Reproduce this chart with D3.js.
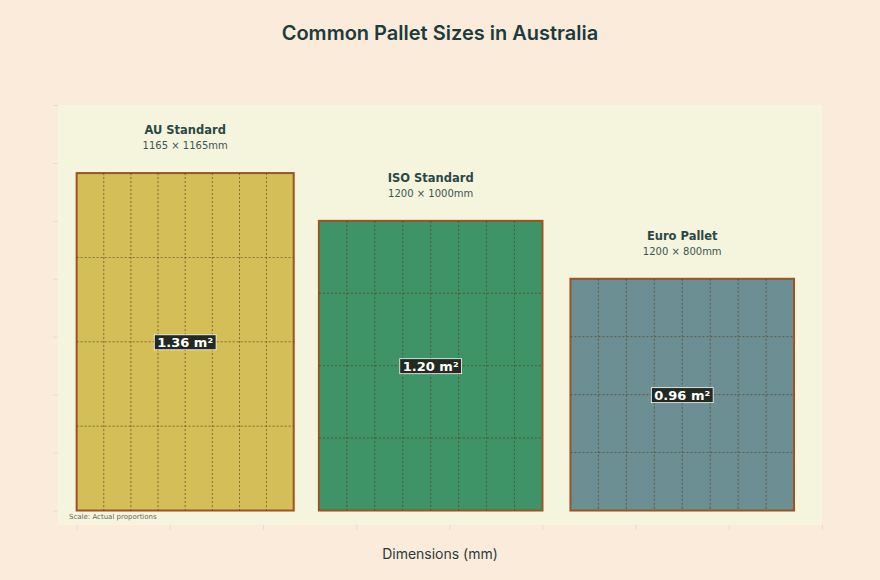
<!DOCTYPE html>
<html><head><meta charset="utf-8">
<script src="https://cdn.jsdelivr.net/npm/d3@7"></script>
<style>body{margin:0;background:#faebdb}</style>
</head><body><svg id="chart" width="880" height="580"></svg>
<script>
const names = ['AU Standard', 'ISO Standard', 'Euro Pallet'];
const widths = [1165, 1200, 1200];
const depths = [1165, 1000, 800];
const starts = [0, 1300, 2650];
const areas = ['1.36 m²', '1.20 m²', '0.96 m²'];
const colors = ['#d4be58', '#3e9466', '#6b8f93'];

const svg = d3.select('#chart');
const x = d3.scaleLinear().domain([-100, 4000]).range([58, 822]);
const y = d3.scaleLinear().domain([-50, 1400]).range([525, 105]);

svg.append('rect').attr('x', 58).attr('y', 105).attr('width', 764).attr('height', 420).attr('fill', '#f5f4dc');

svg.append('text').attr('x', 440).attr('y', 40).attr('text-anchor', 'middle')
  .attr('font-family', 'Inter').attr('font-weight', 600).attr('font-size', 20)
  .attr('fill', '#1e3b3c').text('Common Pallet Sizes in Australia');

svg.append('g').attr('transform', 'translate(0,525)')
  .call(d3.axisBottom(x).tickValues(d3.range(0, 4001, 500)).tickSize(5).tickFormat(''))
  .call(g => { g.select('.domain').remove(); g.selectAll('line').attr('stroke', '#e8dccb'); });
svg.append('g').attr('transform', 'translate(58,0)')
  .call(d3.axisLeft(y).tickValues(d3.range(0, 1401, 200)).tickSize(5).tickFormat(''))
  .call(g => { g.select('.domain').remove(); g.selectAll('line').attr('stroke', '#e8dccb'); });

svg.append('text').attr('x', 440).attr('y', 559).attr('text-anchor', 'middle')
  .attr('font-family', 'Inter').attr('font-size', 14).attr('fill', '#2a3b3c').text('Dimensions (mm)');

names.forEach((n, i) => {
  const g = svg.append('g');
  const x0 = x(starts[i]), x1 = x(starts[i] + widths[i]);
  const y0 = y(depths[i]), y1 = y(0);
  g.append('rect').attr('x', x0).attr('y', y0).attr('width', x1 - x0).attr('height', y1 - y0)
    .attr('fill', colors[i]).attr('stroke', '#9b5428').attr('stroke-width', 2);
  d3.range(1, 8).forEach(k => {
    const xx = x(starts[i] + widths[i] * k / 8);
    g.append('line').attr('x1', xx).attr('x2', xx).attr('y1', y0).attr('y2', y1)
      .attr('stroke', '#5a3a1e').attr('stroke-width', 0.8).attr('stroke-dasharray', '2,2').attr('opacity', 0.8);
  });
  d3.range(1, 4).forEach(k => {
    const yy = y(depths[i] * k / 4);
    g.append('line').attr('x1', x0).attr('x2', x1).attr('y1', yy).attr('y2', yy)
      .attr('stroke', '#5a3a1e').attr('stroke-width', 0.8).attr('stroke-dasharray', '2,2').attr('opacity', 0.8);
  });
  const cx = (x0 + x1) / 2, cy = (y0 + y1) / 2;
  g.append('text').attr('x', cx).attr('y', y0 - 39).attr('text-anchor', 'middle')
    .attr('font-family', 'DejaVu Sans').attr('font-weight', 'bold').attr('font-size', 11.5)
    .attr('fill', '#2b4848').text(n);
  g.append('text').attr('x', cx).attr('y', y0 - 24).attr('text-anchor', 'middle')
    .attr('font-family', 'DejaVu Sans').attr('font-size', 10).attr('fill', '#3c5656')
    .text(widths[i] + ' × ' + depths[i] + 'mm');
  const t = g.append('text').attr('x', cx).attr('y', cy + 5).attr('text-anchor', 'middle')
    .attr('font-family', 'DejaVu Sans').attr('font-weight', 'bold').attr('font-size', 13)
    .attr('fill', '#fff').text(areas[i]);
  const b = t.node().getBBox();
  g.insert('rect', 'text:last-child').attr('x', b.x - 3).attr('y', b.y).attr('width', b.width + 6).attr('height', b.height)
    .attr('fill', '#222a22').attr('stroke', '#fff').attr('stroke-width', 0.8);
  t.raise();
});

svg.append('text').attr('x', 69).attr('y', 519).attr('font-family', 'DejaVu Sans').attr('font-size', 7)
  .attr('fill', '#666').text('Scale: Actual proportions');
</script></body></html>
